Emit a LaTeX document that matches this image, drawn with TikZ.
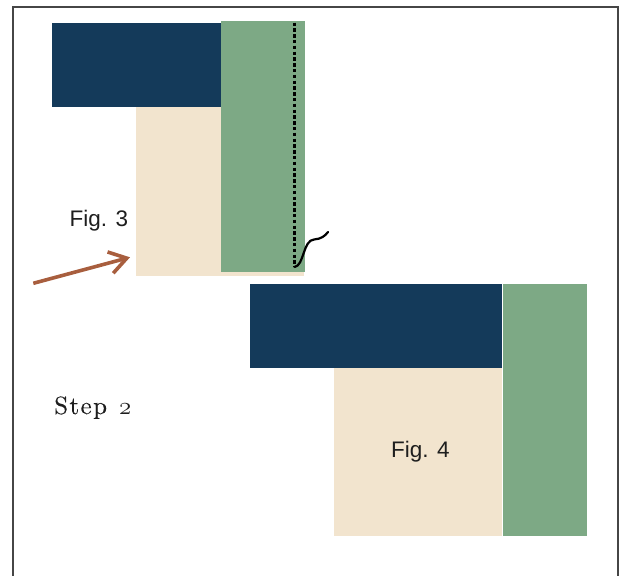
\documentclass[tikz,border=0pt]{standalone}
\usepackage{fontspec}
\newfontfamily\figfont{Liberation Sans}
\newfontfamily\stepfont[FakeBold=0.15]{lmroman10-regular.otf}
\usetikzlibrary{arrows.meta}
\definecolor{navy}{RGB}{20,58,90}
\definecolor{sage}{RGB}{125,169,133}
\definecolor{cream}{RGB}{242,228,206}
\definecolor{rust}{RGB}{168,94,62}
\definecolor{framegray}{RGB}{70,70,70}
\definecolor{ink}{RGB}{30,30,30}
\newcommand{\osdigit}[1]{{\fontsize{31}{33}\usefont{OML}{lmm}{m}{it}#1}}
\begin{document}
\begin{tikzpicture}[x=1pt,y=-1pt,
  block/.style={draw=none,inner sep=0pt,outer sep=0pt,anchor=north west},
  figlabel/.style={anchor=base west,inner sep=0pt,text=ink,font=\figfont\fontsize{22.5}{27}\selectfont},
  seam/.style={line width=2.2pt,black,dash pattern=on 3.5pt off 2.3pt},
  squiggle/.style={line width=2.2pt,black,line cap=round},
  pointer/.style={rust,line width=3.6pt,-{Straight Barb[length=17pt,width=22pt]}}]
\useasboundingbox (0,0) rectangle (627,576);
\draw[framegray,line width=2pt] (12.7,580) -- (12.7,7.3) -- (617.7,7.3) -- (617.7,580);
% Fig. 3
\node[block,fill=cream,minimum width=168pt,minimum height=168.2pt] (beige3) at (135.7,107.3) {};
\node[block,fill=navy,minimum width=169pt,minimum height=84pt] (navy3) at (52,23.3) {};
\node[block,fill=sage,minimum width=83.5pt,minimum height=251pt] (green3) at (221,21) {};
\coordinate (d1) at (294.5,22.5);
\coordinate (d2) at (294.5,267);
\coordinate (q1) at (314,239.5);
\coordinate (q2) at (328,232);
\draw[seam] (d1) -- (d2);
\draw[squiggle] (d2) .. controls (304,266) and (303,240) .. (q1) .. controls (321,239) and (325,236) .. (q2);
\node[figlabel] (f3) at (69.5,226) {Fig. 3};
\coordinate (a0) at (33.3,283.3);
\coordinate (a1) at (130,257.3);
\draw[pointer] (a0) -- (a1);
% Fig. 4
\node[block,fill=navy,minimum width=251.4pt,minimum height=84pt] (navy4) at (250.3,284) {};
\node[block,fill=cream,minimum width=168.3pt,minimum height=167.7pt] (beige4) at (334,368) {};
\node[block,fill=sage,minimum width=83.7pt,minimum height=251.7pt] (green4) at (503,284) {};
\node[figlabel] (f4) at (391,457.7) {Fig. 4};
% Step 2
\node[anchor=base west,inner sep=0pt,text=ink,font=\stepfont\fontsize{25}{30}\selectfont] (s2) at (54,414) {S\kern1.4pt t\kern1.4pt e\kern1.4pt p\hspace{12pt}\osdigit{2}};
\end{tikzpicture}
\end{document}
